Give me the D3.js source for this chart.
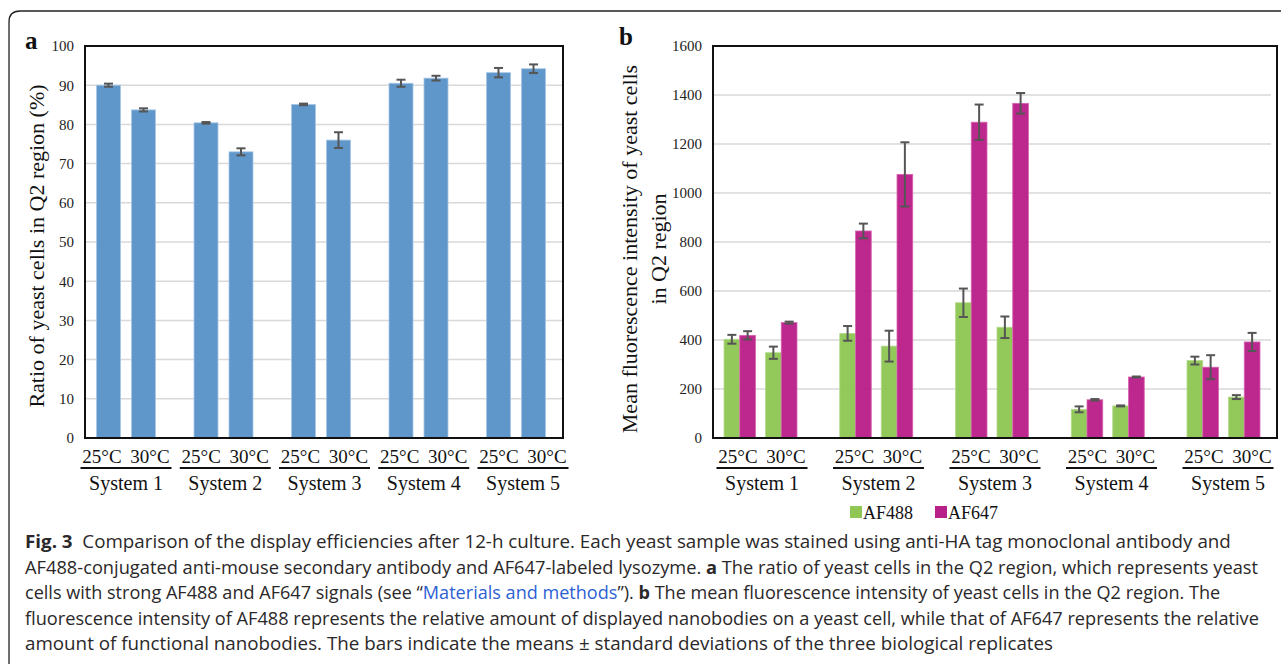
<!DOCTYPE html>
<html>
<head>
<meta charset="utf-8">
<script src="https://cdn.jsdelivr.net/npm/d3@7"></script>
<style>
body{margin:0;background:#fff;}
svg{display:block;}
</style>
</head>
<body>
<svg id="fig" width="1281" height="664"></svg>
<script>
var systems = ["System 1", "System 2", "System 3", "System 4", "System 5"];
var temps = ["25°C", "30°C"];
var dyes = ["AF488", "AF647"];

// a: ratio of yeast cells in Q2 (%), mean and sd
var ratio25 = [90.0, 80.4, 85.1, 90.5, 93.2];
var ratio25_sd = [0.4, 0.2, 0.2, 0.9, 1.2];
var ratio30 = [83.7, 73.0, 76.0, 91.8, 94.2];
var ratio30_sd = [0.4, 0.9, 2.0, 0.6, 1.1];

// b: mean fluorescence intensity
var af488_25 = [403, 427, 552, 117, 316];
var af488_25_sd = [18, 30, 58, 12, 16];
var af488_30 = [348, 375, 452, 131, 167];
var af488_30_sd = [25, 63, 44, 2, 8];
var af647_25 = [419, 845, 1289, 156, 289];
var af647_25_sd = [17, 30, 72, 3, 49];
var af647_30 = [471, 1076, 1366, 249, 392];
var af647_30_sd = [4, 131, 42, 2, 37];

var ticks_a = [0, 10, 20, 30, 40, 50, 60, 70, 80, 90, 100];
var ticks_b = [0, 200, 400, 600, 800, 1000, 1200, 1400, 1600];

var caption = [
  [["b", "Fig. 3"], ["", "  Comparison of the display efficiencies after 12-h culture. Each yeast sample was stained using anti-HA tag monoclonal antibody and"]],
  [["", "AF488-conjugated anti-mouse secondary antibody and AF647-labeled lysozyme. "], ["b", "a"], ["", " The ratio of yeast cells in the Q2 region, which represents yeast"]],
  [["", "cells with strong AF488 and AF647 signals (see “"], ["l", "Materials and methods"], ["", "”). "], ["b", "b"], ["", " The mean fluorescence intensity of yeast cells in the Q2 region. The"]],
  [["", "fluorescence intensity of AF488 represents the relative amount of displayed nanobodies on a yeast cell, while that of AF647 represents the relative"]],
  [["", "amount of functional nanobodies. The bars indicate the means ± standard deviations of the three biological replicates"]]
];
var caption_end = [1232, 1259, 1221, 1260, 1054];

var serif = "'Liberation Serif', 'Times New Roman', serif";
var col_blue = "#5a93c8", col_green = "#8fc654", col_mag = "#b91f88";
var col_err = "#555555";

var svg = d3.select("#fig");

// outer frame
svg.append("path")
  .attr("d", "M1281,11 L20,11 Q9,11 9,22 L9,664")
  .attr("fill", "none").attr("stroke", "#222").attr("stroke-width", 1.3);

function drawGrid(y, ticks, x0, x1){
  svg.append("g").selectAll("line").data(ticks).enter().append("line")
    .attr("x1", x0).attr("x2", x1)
    .attr("y1", function(d){ return y(d); }).attr("y2", function(d){ return y(d); })
    .attr("stroke", "#d9d9d9").attr("stroke-width", 1.5);
}
function drawYAxis(y, ticks, x){
  var g = svg.append("g").attr("transform", "translate(" + x + ",0)")
    .call(d3.axisLeft(y).tickValues(ticks).tickSize(0).tickPadding(11).tickFormat(d3.format("d")))
    .attr("font-family", serif).attr("font-size", 15);
  g.select(".domain").remove();
  g.selectAll("text").attr("fill", "#222");
}
function drawErr(g, rows, xf, wf, y){
  var e = g.selectAll("g.err").data(rows).enter().append("g").attr("class", "err")
    .attr("stroke", col_err).attr("stroke-width", 2);
  e.append("line")
    .attr("x1", function(d){ return xf(d) + wf / 2; }).attr("x2", function(d){ return xf(d) + wf / 2; })
    .attr("y1", function(d){ return y(d.v - d.sd); }).attr("y2", function(d){ return y(d.v + d.sd); });
  [-1, 1].forEach(function(s){
    e.append("line")
      .attr("x1", function(d){ return xf(d) + wf / 2 - 4.5; }).attr("x2", function(d){ return xf(d) + wf / 2 + 4.5; })
      .attr("y1", function(d){ return y(d.v + s * d.sd); }).attr("y2", function(d){ return y(d.v + s * d.sd); });
  });
}
function drawCats(lx){
  var g = svg.append("g").attr("font-family", serif).attr("fill", "#111");
  systems.forEach(function(s){
    var c = lx(s);
    temps.forEach(function(t, j){
      g.append("text").attr("x", c + (j ? 24 : -24)).attr("y", 463)
        .attr("text-anchor", "middle").attr("font-size", 19).text(t);
    });
    g.append("line").attr("x1", c - 45.5).attr("x2", c + 45.5).attr("y1", 468).attr("y2", 468)
      .attr("stroke", "#111").attr("stroke-width", 2);
    g.append("text").attr("x", c).attr("y", 490)
      .attr("text-anchor", "middle").attr("font-size", 20).text(s);
  });
}

// ---------- panel a ----------
var ya = d3.scaleLinear().domain([0, 100]).range([438, 46]);
var xa = d3.scalePoint().domain(systems).range([126, 516]);
var xa_t = d3.scaleBand().domain(temps).range([-29.5, 29.5]).paddingInner(0.314);
var la = d3.scalePoint().domain(systems).range([126, 523]);

var rowsA = [];
systems.forEach(function(s, i){
  rowsA.push({sys: s, temp: temps[0], v: ratio25[i], sd: ratio25_sd[i]});
  rowsA.push({sys: s, temp: temps[1], v: ratio30[i], sd: ratio30_sd[i]});
});

drawGrid(ya, ticks_a, 85, 563);
drawYAxis(ya, ticks_a, 85);

var ga = svg.append("g");
var xA = function(d){ return xa(d.sys) + xa_t(d.temp); };
ga.selectAll("rect").data(rowsA).enter().append("rect")
  .attr("x", xA).attr("width", xa_t.bandwidth())
  .attr("y", function(d){ return ya(d.v); })
  .attr("height", function(d){ return ya(0) - ya(d.v); })
  .attr("fill", col_blue).attr("fill-opacity", 0.96)
  .attr("stroke", "#a8c7e6").attr("stroke-width", 0.8);
drawErr(ga, rowsA, xA, xa_t.bandwidth(), ya);

svg.append("rect").attr("x", 85).attr("y", 46).attr("width", 478).attr("height", 392)
  .attr("fill", "none").attr("stroke", "#111").attr("stroke-width", 2);
drawCats(la);

svg.append("text").attr("transform", "translate(44,246) rotate(-90)")
  .attr("text-anchor", "middle").attr("font-family", serif).attr("font-size", 22).attr("fill", "#111")
  .text("Ratio of yeast cells in Q2 region (%)");
svg.append("text").attr("x", 25).attr("y", 49).attr("font-family", serif)
  .attr("font-weight", "bold").attr("font-size", 25).attr("fill", "#111").text("a");

// ---------- panel b ----------
var yb = d3.scaleLinear().domain([0, 1600]).range([438, 46]);
var xb = d3.scalePoint().domain(systems).range([760.5, 1223.5]);
var xb_t = d3.scaleBand().domain(temps).range([-36.5, 36.5]).paddingInner(0.241);
var xb_d = d3.scaleBand().domain(dyes).range([0, xb_t.bandwidth()]);
var lb = d3.scalePoint().domain(systems).range([762, 1228]);
var dyeColor = d3.scaleOrdinal().domain(dyes).range([col_green, col_mag]);
var dyeStroke = d3.scaleOrdinal().domain(dyes).range(["#b4da8c", "#d765b1"]);

var rowsB = [];
systems.forEach(function(s, i){
  rowsB.push({sys: s, temp: temps[0], dye: dyes[0], v: af488_25[i], sd: af488_25_sd[i]});
  rowsB.push({sys: s, temp: temps[0], dye: dyes[1], v: af647_25[i], sd: af647_25_sd[i]});
  rowsB.push({sys: s, temp: temps[1], dye: dyes[0], v: af488_30[i], sd: af488_30_sd[i]});
  rowsB.push({sys: s, temp: temps[1], dye: dyes[1], v: af647_30[i], sd: af647_30_sd[i]});
});

drawGrid(yb, ticks_b, 713, 1271);
drawYAxis(yb, ticks_b, 713);

var gb = svg.append("g");
var xB = function(d){ return xb(d.sys) + xb_t(d.temp) + xb_d(d.dye); };
gb.selectAll("rect").data(rowsB).enter().append("rect")
  .attr("x", xB).attr("width", xb_d.bandwidth())
  .attr("y", function(d){ return yb(d.v); })
  .attr("height", function(d){ return yb(0) - yb(d.v); })
  .attr("fill", function(d){ return dyeColor(d.dye); }).attr("fill-opacity", 0.96)
  .attr("stroke", function(d){ return dyeStroke(d.dye); }).attr("stroke-width", 0.8);
drawErr(gb, rowsB, xB, xb_d.bandwidth(), yb);

svg.append("rect").attr("x", 713).attr("y", 46).attr("width", 564).attr("height", 392)
  .attr("fill", "none").attr("stroke", "#111").attr("stroke-width", 2);
drawCats(lb);

var ylb = svg.append("text").attr("transform", "translate(0,249) rotate(-90)")
  .attr("text-anchor", "middle").attr("font-family", serif).attr("font-size", 22).attr("fill", "#111");
ylb.append("tspan").attr("x", 0).attr("y", 637).text("Mean fluorescence intensity of yeast cells");
ylb.append("tspan").attr("x", 0).attr("y", 666).text("in Q2 region");
svg.append("text").attr("x", 619).attr("y", 45).attr("font-family", serif)
  .attr("font-weight", "bold").attr("font-size", 25).attr("fill", "#111").text("b");

// legend
var legX = d3.scaleOrdinal().domain(dyes).range([850, 935]);
var leg = svg.append("g").selectAll("g").data(dyes).enter().append("g")
  .attr("transform", function(d){ return "translate(" + legX(d) + ",506)"; });
leg.append("rect").attr("width", 12).attr("height", 12).attr("fill", function(d){ return dyeColor(d); });
leg.append("text").attr("x", 13).attr("y", 12.5).attr("font-family", serif).attr("font-size", 18)
  .attr("fill", "#111").text(function(d){ return d; });

// caption
caption.forEach(function(parts, i){
  var t = svg.append("text").attr("x", 25).attr("y", 548 + i * 25.6)
    .attr("font-family", "'Open Sans', 'Noto Sans', sans-serif").attr("font-size", 17.5)
    .attr("fill", "#2b2829").style("white-space", "pre");
  parts.forEach(function(p){
    var s = t.append("tspan").text(p[1]);
    if(p[0] == "b") s.attr("font-weight", "bold");
    if(p[0] == "l") s.attr("fill", "#2d5fd3");
  });
  var w = t.node().getComputedTextLength();
  var sx = (caption_end[i] - 25) / w;
  t.attr("transform", "translate(25,0) scale(" + sx + ",1) translate(-25,0)");
});
</script>
</body>
</html>
